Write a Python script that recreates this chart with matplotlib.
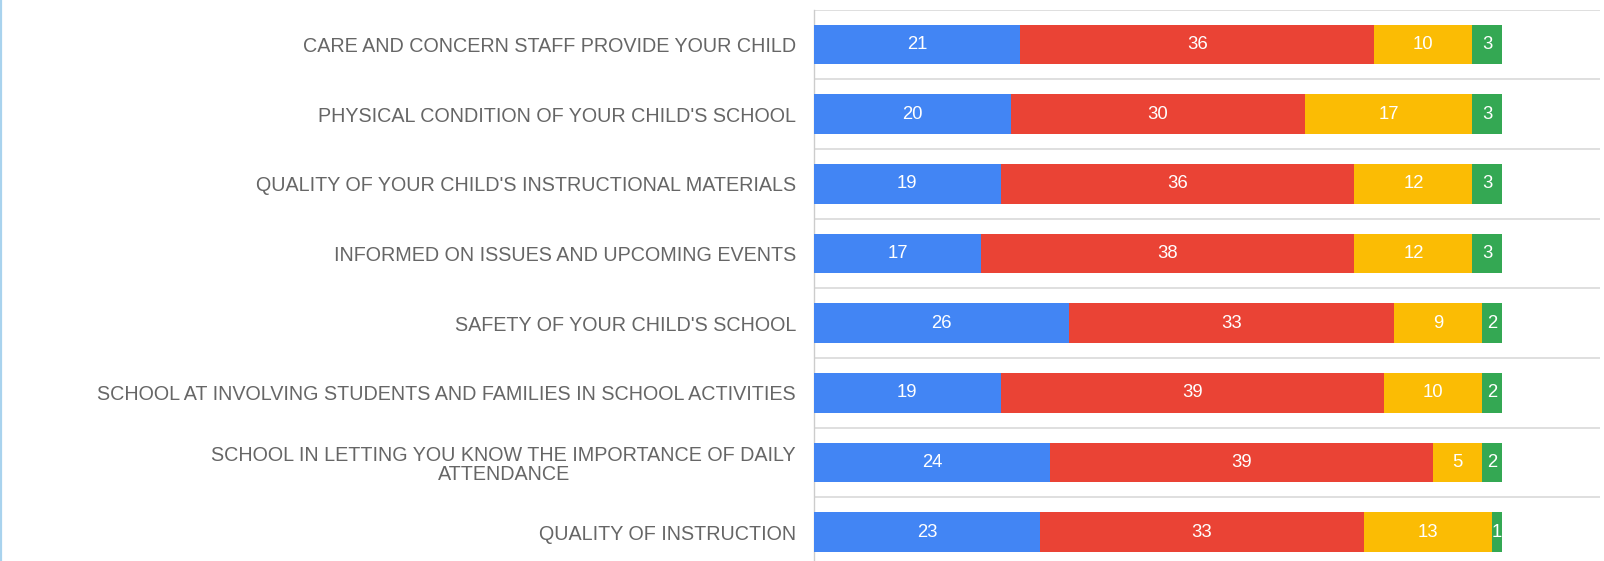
import matplotlib
matplotlib.use("Agg")
import matplotlib.pyplot as plt
import numpy as np

# survey rows, top to bottom
categories = [
    "CARE AND CONCERN STAFF PROVIDE YOUR CHILD",
    "PHYSICAL CONDITION OF YOUR CHILD'S SCHOOL",
    "QUALITY OF YOUR CHILD'S INSTRUCTIONAL MATERIALS",
    "INFORMED ON ISSUES AND UPCOMING EVENTS",
    "SAFETY OF YOUR CHILD'S SCHOOL",
    "SCHOOL AT INVOLVING STUDENTS AND FAMILIES IN SCHOOL ACTIVITIES",
    "SCHOOL IN LETTING YOU KNOW THE IMPORTANCE OF DAILY\nATTENDANCE",
    "QUALITY OF INSTRUCTION",
]
blue_vals = [21, 20, 19, 17, 26, 19, 24, 23]
red_vals = [36, 30, 36, 38, 33, 39, 39, 33]
yellow_vals = [10, 17, 12, 12, 9, 10, 5, 13]
green_vals = [3, 3, 3, 3, 2, 2, 2, 1]

series = [blue_vals, red_vals, yellow_vals, green_vals]
colors = ['#4285F4', '#EA4335', '#FBBC04', '#34A853']

W, H = 1604, 561
fig = plt.figure(figsize=(W / 100, H / 100), dpi=100)
fig.patch.set_facecolor('white')

# axes placed in pixels, bottom band runs past the lower edge
ax = fig.add_axes([814 / W, (H - 567) / H, 786 / W, 557.3 / H])

y = np.arange(len(categories))
left = np.zeros(len(categories))
for vals, col in zip(series, colors):
    bars = ax.barh(y, vals, left=left, height=0.57, color=col, edgecolor='none', zorder=3)
    for b, v in zip(bars, vals):
        ax.text(b.get_x() + b.get_width() / 2, b.get_y() + b.get_height() / 2, str(v),
                ha='center', va='center', color='white', fontsize=13.3,
                family='Liberation Sans', zorder=4)
    left += np.array(vals)

ax.set_xlim(0, 80)
ax.set_ylim(len(categories) - 0.5, -0.5)

# band separators
for g in np.arange(-0.5, len(categories), 1.0):
    ax.axhline(g, color='#d9d9d9', lw=1.2, zorder=1)

for s in ['top', 'right', 'bottom']:
    ax.spines[s].set_visible(False)
ax.spines['left'].set_color('#cccccc')
ax.spines['left'].set_linewidth(1.0)

ax.set_xticks([])
ax.set_yticks(y)
ax.set_yticklabels(categories, family='Liberation Sans', fontsize=14.2, color='#666666',
                   multialignment='center', linespacing=1.05)
ax.tick_params(axis='y', length=0, pad=13)

# thin light-blue border on the left edge of the screenshot
fig.add_artist(plt.Line2D([1 / W, 1 / W], [0, 1], color='#a9d3ee', lw=1.6))

fig.savefig('out.png', dpi=100, facecolor='white')
